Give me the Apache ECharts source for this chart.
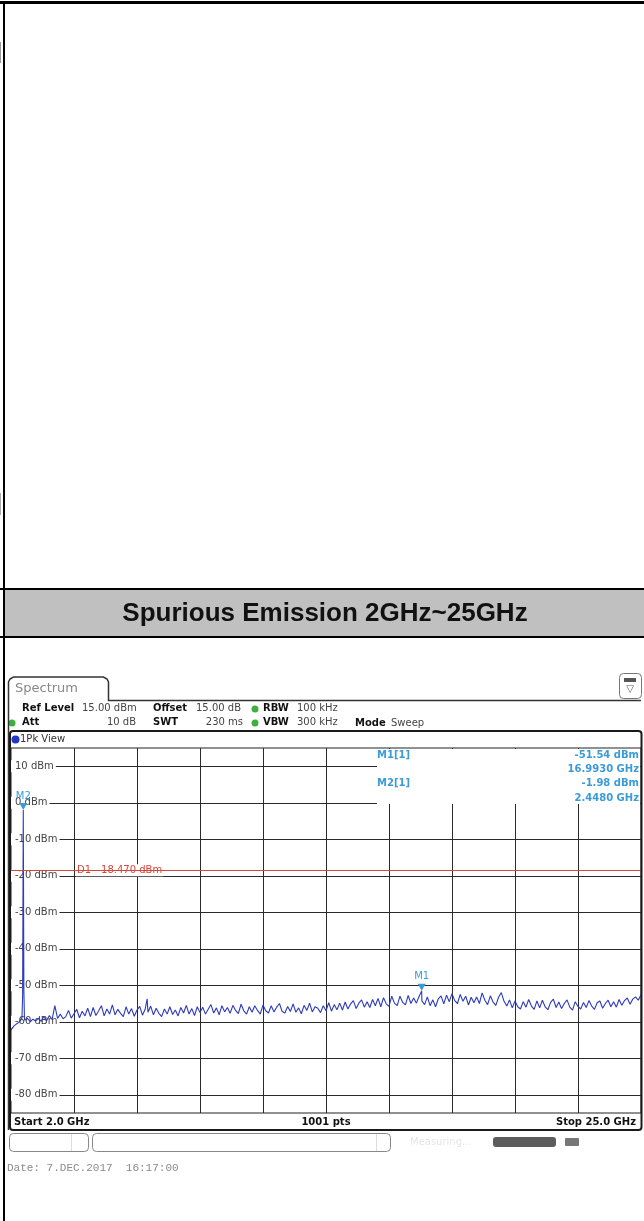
<!DOCTYPE html>
<html>
<head>
<meta charset="utf-8">
<title>Spurious Emission 2GHz~25GHz</title>
<script src="https://cdn.jsdelivr.net/npm/echarts@6/dist/echarts.min.js"></script>
<style>
  html, body { margin: 0; padding: 0; background: #fff; }
  #chart { width: 644px; height: 1221px; }
</style>
</head>
<body>
<div id="chart"></div>
<script>
// sweep settings shown on the analyzer
const startGHz = 2.0;
const stopGHz = 25.0;
const sweepPoints = 1001;
const refLevelDbm = 15;
const bottomDbm = -85;

// grid lines (10 divisions in x, 10 dB/div in y)
const gridGHz = [4.3, 6.6, 8.9, 11.2, 13.5, 15.8, 18.1, 20.4, 22.7];
const gridDbm = [10, 0, -10, -20, -30, -40, -50, -60, -70, -80];

// display line D1
const displayLineDbm = -18.47;

// markers
const markerNames = ['M1', 'M2'];
const markerGHz = [16.993, 2.448];
const markerDbm = [-51.54, -1.98];

// trace, [GHz, dBm]
const trace = [
  [2.0,-62.3],[2.1,-61.2],[2.2,-60.6],[2.3,-60.1],[2.4,-59.0],[2.425,-52.8],[2.448,-1.98],[2.47,-51.6],[2.49,-58.6],
  [2.5,-59.6],[2.6,-59.1],[2.7,-60.0],[2.8,-59.3],[2.9,-59.8],
  [3.0,-59.0],[3.1,-59.9],[3.2,-58.5],[3.3,-59.7],[3.4,-58.3],[3.5,-59.4],[3.6,-55.6],[3.7,-59.1],[3.8,-57.9],[3.9,-59.2],
  [4.0,-58.6],[4.1,-56.9],[4.2,-59.0],[4.3,-57.8],[4.4,-56.6],[4.5,-58.9],[4.6,-57.1],[4.7,-58.4],[4.8,-56.3],[4.9,-58.6],
  [5.0,-56.1],[5.1,-58.3],[5.2,-57.0],[5.3,-55.6],[5.4,-58.4],[5.5,-56.5],[5.6,-57.9],[5.7,-55.4],[5.8,-58.1],[5.9,-56.6],
  [6.0,-57.7],[6.1,-58.6],[6.2,-55.9],[6.3,-57.9],[6.4,-56.4],[6.5,-58.5],[6.6,-56.8],[6.7,-55.8],[6.8,-58.2],[6.9,-56.5],[6.97,-53.7],
  [7.0,-57.4],[7.1,-55.7],[7.2,-58.1],[7.3,-56.3],[7.4,-57.7],[7.5,-58.6],[7.6,-56.5],[7.7,-57.9],[7.8,-55.9],[7.9,-58.0],
  [8.0,-56.8],[8.1,-58.4],[8.2,-56.1],[8.3,-57.6],[8.4,-55.5],[8.5,-57.9],[8.6,-56.4],[8.7,-58.3],[8.8,-55.9],[8.9,-57.5],
  [9.0,-56.0],[9.1,-57.9],[9.2,-56.6],[9.3,-55.3],[9.4,-57.6],[9.5,-56.2],[9.6,-58.1],[9.7,-55.6],[9.8,-57.3],[9.9,-56.1],
  [10.0,-57.7],[10.1,-55.5],[10.2,-56.9],[10.3,-57.8],[10.4,-55.2],[10.5,-57.0],[10.6,-57.9],[10.7,-55.9],[10.8,-57.4],[10.9,-55.6],
  [11.0,-56.9],[11.1,-57.9],[11.2,-55.4],[11.3,-57.0],[11.4,-57.6],[11.5,-55.6],[11.6,-57.3],[11.7,-56.0],[11.8,-55.0],[11.9,-57.2],
  [12.0,-57.6],[12.1,-55.8],[12.2,-57.2],[12.3,-55.1],[12.4,-57.4],[12.5,-56.2],[12.6,-57.8],[12.7,-55.5],[12.8,-56.9],[12.9,-54.9],
  [13.0,-57.3],[13.1,-55.9],[13.2,-56.3],[13.3,-57.5],[13.4,-55.6],[13.5,-57.0],[13.6,-54.8],[13.7,-57.1],[13.8,-55.3],[13.9,-56.7],
  [14.0,-54.9],[14.1,-56.8],[14.2,-54.6],[14.3,-56.5],[14.4,-55.1],[14.5,-54.2],[14.6,-56.4],[14.7,-54.9],[14.8,-54.0],[14.9,-56.0],
  [15.0,-54.5],[15.1,-56.1],[15.2,-53.9],[15.3,-55.6],[15.4,-53.6],[15.5,-55.9],[15.6,-53.4],[15.7,-55.1],[15.8,-55.8],[15.9,-53.0],
  [16.0,-54.9],[16.1,-55.6],[16.2,-53.0],[16.3,-54.7],[16.4,-55.4],[16.5,-52.8],[16.6,-55.0],[16.7,-53.5],[16.8,-54.9],[16.9,-53.0],[16.993,-51.54],
  [17.0,-54.3],[17.1,-55.3],[17.2,-53.2],[17.3,-55.6],[17.4,-54.0],[17.5,-55.9],[17.6,-53.7],[17.7,-52.9],[17.8,-55.1],[17.9,-52.7],
  [18.0,-54.5],[18.1,-52.3],[18.2,-54.2],[18.3,-55.0],[18.4,-52.5],[18.5,-54.4],[18.6,-53.0],[18.7,-55.4],[18.8,-53.3],[18.9,-54.8],
  [19.0,-53.2],[19.1,-55.0],[19.2,-52.1],[19.3,-54.1],[19.4,-55.3],[19.5,-52.9],[19.6,-54.6],[19.7,-55.5],[19.8,-53.3],[19.9,-52.0],
  [20.0,-54.4],[20.1,-55.7],[20.2,-54.0],[20.3,-56.2],[20.4,-54.3],[20.5,-55.9],[20.6,-56.5],[20.7,-54.5],[20.8,-56.0],[20.9,-53.9],
  [21.0,-55.7],[21.1,-56.6],[21.2,-54.3],[21.3,-56.2],[21.4,-54.1],[21.5,-55.9],[21.6,-56.7],[21.7,-54.7],[21.8,-53.8],[21.9,-56.1],
  [22.0,-54.6],[22.1,-56.4],[22.2,-55.0],[22.3,-54.0],[22.4,-56.0],[22.5,-56.8],[22.6,-54.5],[22.7,-55.8],[22.8,-56.5],[22.9,-54.7],
  [23.0,-56.1],[23.1,-54.2],[23.2,-55.7],[23.3,-56.6],[23.4,-54.8],[23.5,-54.3],[23.6,-56.3],[23.7,-55.0],[23.8,-54.1],[23.9,-55.9],
  [24.0,-54.5],[24.1,-56.0],[24.2,-53.9],[24.3,-55.5],[24.4,-54.2],[24.5,-53.5],[24.6,-55.2],[24.7,-53.8],[24.8,-53.2],[24.9,-54.1],[25.0,-52.6]
];

const SANS = '"DejaVu Sans", sans-serif';
const markerBlue = '#3a9bd8';
const traceBlue = '#2e3bbb';
const d1Red = '#d4483a';

const chart = echarts.init(document.getElementById('chart'), null, { renderer: 'canvas' });

function txt(x, y, text, font, fill, align, extra) {
  const style = Object.assign({
    text: text, font: font, fill: fill,
    align: align || 'left', textAlign: align || 'left',
    verticalAlign: 'middle', textVerticalAlign: 'middle'
  }, extra || {});
  return { type: 'text', x: x, y: y, z: 5, style: style };
}
function box(x, y, w, h, style, z, r) {
  return { type: 'rect', z: z || 0, shape: { x: x, y: y, width: w, height: h, r: r || 0 }, style: style };
}
function dot(x, y, r, color) {
  return { type: 'circle', z: 5, shape: { cx: x, cy: y, r: r }, style: { fill: color } };
}

const option = {
  animation: false,
  backgroundColor: '#fff',
  grid: {
    left: 11, top: 748, width: 630, height: 365,
    show: true, borderColor: '#222', borderWidth: 1, backgroundColor: 'transparent',
    outerBoundsMode: 'none'
  },
  xAxis: {
    type: 'value', min: startGHz, max: stopGHz,
    axisLine: { show: false },
    axisTick: { show: false, customValues: gridGHz },
    axisLabel: { show: false },
    splitLine: { show: true, lineStyle: { color: '#2a2a2a', width: 1 } }
  },
  yAxis: [
    {
      type: 'value', min: bottomDbm, max: refLevelDbm, z: 0,
      axisLine: { show: false },
      axisTick: { show: false, customValues: gridDbm },
      axisLabel: { show: false },
      splitLine: { show: true, lineStyle: { color: '#2a2a2a', width: 1 } }
    },
    {
      type: 'value', min: bottomDbm, max: refLevelDbm, position: 'left', z: 1,
      axisLine: { show: false },
      axisTick: { show: false, customValues: gridDbm },
      splitLine: { show: false },
      axisLabel: {
        inside: true, margin: 0, customValues: gridDbm,
        formatter: '{value} dBm', color: '#444', fontSize: 10, fontFamily: SANS,
        backgroundColor: '#fff', padding: [1, 2, 1, 4]
      }
    }
  ],
  series: [{
    type: 'line', name: 'Trace 1', data: trace, xAxisIndex: 0, yAxisIndex: 0,
    showSymbol: false, symbol: 'none', z: 2,
    lineStyle: { color: traceBlue, width: 1.1 },
    itemStyle: { color: traceBlue },
    markLine: {
      silent: true, symbol: 'none', animation: false,
      label: { show: false },
      lineStyle: { color: d1Red, width: 1, type: 'solid' },
      data: [{ yAxis: displayLineDbm }]
    },
    markPoint: {
      silent: true, animation: false,
      symbol: 'triangle', symbolRotate: 180, symbolSize: [8, 7], symbolOffset: [0, -3.5],
      itemStyle: { color: markerBlue },
      label: { show: true, position: 'top', distance: 2, formatter: '{b}', color: markerBlue, fontSize: 10, fontFamily: SANS },
      data: markerNames.map((n, i) => ({ name: n, coord: [markerGHz[i], markerDbm[i]] }))
    }
  }]
};

chart.setOption(option);

// ----- surrounding page + instrument decoration -----
const g = [];
// report table borders
g.push(box(0, 1, 644, 3, { fill: '#000' }));
g.push(box(3, 1, 2, 1220, { fill: '#000' }));
g.push(box(0, 42, 1, 21, { fill: '#999' }));
g.push(box(0, 493, 1, 22, { fill: '#aaa' }));
g.push(box(0, 588, 644, 2, { fill: '#000' }));
g.push(box(5, 590, 639, 46, { fill: '#c0c0c0' }));
g.push(box(0, 636, 644, 2, { fill: '#000' }));
g.push(txt(325, 614, 'Spurious Emission ' + startGHz.toFixed(0) + 'GHz~' + stopGHz.toFixed(0) + 'GHz',
  'bold 26px "Liberation Sans", Arial, sans-serif', '#111', 'center'));

// Spectrum tab
g.push({ type: 'polyline', z: 6,
  shape: { points: [[8.5, 1130], [8.5, 682], [10, 679], [13.5, 677], [103.5, 677], [107, 679], [108.5, 682], [108.5, 700.5], [641, 700.5]] },
  style: { fill: null, stroke: '#333', lineWidth: 1.5 } });
g.push(txt(15, 689, 'Spectrum', '13px ' + SANS, '#888'));
// icon top-right
g.push(box(619.5, 673.5, 22, 25, { fill: '#fff', stroke: '#777', lineWidth: 1 }, 5, 4));
g.push(box(624, 678, 12, 4, { fill: '#555' }, 6));
g.push(txt(630, 689, '\u25BD', '10px ' + SANS, '#555', 'center'));

// settings lines
const B = 'bold 10px ' + SANS, R = '10px ' + SANS;
g.push(txt(22, 708, 'Ref Level', B, '#111'));
g.push(txt(82, 708, refLevelDbm.toFixed(2) + ' dBm', R, '#444'));
g.push(txt(153, 708, 'Offset', B, '#111'));
g.push(txt(196, 708, '15.00 dB', R, '#444'));
g.push(dot(255, 709, 3.5, '#3db03d'));
g.push(txt(263, 708, 'RBW', B, '#111'));
g.push(txt(297, 708, '100 kHz', R, '#444'));
g.push(dot(12, 723, 3.5, '#3db03d'));
g.push(txt(22, 722, 'Att', B, '#111'));
g.push(txt(136, 722, '10 dB', R, '#444', 'right'));
g.push(txt(153, 722, 'SWT', B, '#111'));
g.push(txt(243, 722, '230 ms', R, '#444', 'right'));
g.push(dot(255, 723, 3.5, '#3db03d'));
g.push(txt(263, 722, 'VBW', B, '#111'));
g.push(txt(297, 722, '300 kHz', R, '#444'));
g.push(txt(355, 723, 'Mode', B, '#111'));
g.push(txt(391, 723, 'Sweep', R, '#444'));

// diagram frame
g.push({ type: 'rect', z: 10, shape: { x: 10, y: 731, width: 631.5, height: 399, r: 3 },
  style: { fill: null, stroke: '#1a1a1a', lineWidth: 2 } });
g.push(dot(15.5, 739.5, 4, '#2435c7'));
g.push(txt(20, 739.5, '1Pk View', R, '#333'));

// marker table
g.push(box(377, 749, 263, 55, { fill: '#fff' }, 3));
const MB = 'bold 10px ' + SANS;
markerNames.forEach((n, i) => {
  const y0 = 755 + i * 28.5;
  g.push(txt(377, y0, n + '[1]', MB, markerBlue));
  g.push(txt(639, y0, markerDbm[i].toFixed(2) + ' dBm', MB, markerBlue, 'right'));
  g.push(txt(639, y0 + 14.5, markerGHz[i].toFixed(4) + ' GHz', MB, markerBlue, 'right'));
});

// bottom line of the diagram
g.push(txt(14, 1122, 'Start ' + startGHz.toFixed(1) + ' GHz', B, '#111'));
g.push(txt(326, 1122, sweepPoints + ' pts', B, '#111', 'center'));
g.push(txt(636, 1122, 'Stop ' + stopGHz.toFixed(1) + ' GHz', B, '#111', 'right'));

// status bar
g.push(box(9.5, 1133.5, 79, 18, { fill: '#fff', stroke: '#888', lineWidth: 1 }, 5, 4));
g.push(box(71, 1134, 1, 17, { fill: '#ddd' }, 6));
g.push(box(92.5, 1133.5, 298, 18, { fill: '#fff', stroke: '#888', lineWidth: 1 }, 5, 4));
g.push(box(376, 1134, 1, 17, { fill: '#ddd' }, 6));
g.push(txt(410, 1142, 'Measuring...', R, '#e6e6e6'));
g.push(box(493, 1137, 63, 10, { fill: '#5c5c5c' }, 5, 3));
g.push(box(565, 1138, 14, 8, { fill: '#777' }, 5, 1));

// date stamp
g.push(txt(7, 1168, 'Date: 7.DEC.2017  16:17:00', '11px "Liberation Mono", "DejaVu Sans Mono", monospace', '#8a8a8a'));

// D1 label sits on the display line
const d1y = chart.convertToPixel({ yAxisIndex: 0 }, displayLineDbm);
g.push(Object.assign(txt(76, d1y, 'D1  ' + displayLineDbm.toFixed(3) + ' dBm', R, d1Red,
  'left', { backgroundColor: '#fff', padding: [1, 1] }), { z: 4 }));

chart.setOption({ graphic: { elements: g } });
</script>
</body>
</html>
